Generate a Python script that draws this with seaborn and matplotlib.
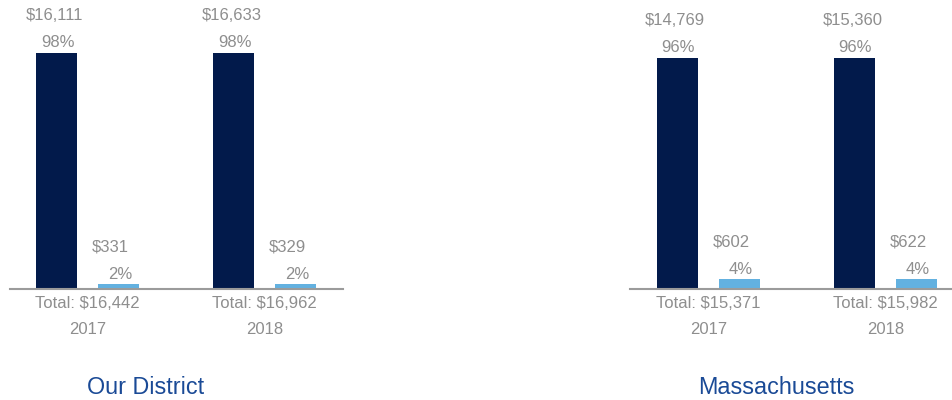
import matplotlib
matplotlib.use("Agg")
import matplotlib.pyplot as plt
import seaborn as sns
import pandas as pd

# ---- data ----
years = ["2017", "2018"]
panels = ["Our District", "Massachusetts"]
main_values = {"Our District": [16111, 16633], "Massachusetts": [14769, 15360]}
main_pct = {"Our District": [98, 98], "Massachusetts": [96, 96]}
other_values = {"Our District": [331, 329], "Massachusetts": [602, 622]}
other_pct = {"Our District": [2, 2], "Massachusetts": [4, 4]}
totals = {"Our District": [16442, 16962], "Massachusetts": [15371, 15982]}

# ---- style ----
DARK = "#021a4b"
LIGHT = "#63b1e0"
GREY_TXT = "#8e8e8e"
AXIS_GREY = "#9b9b9b"
TITLE_BLUE = "#1a4a96"
FONT = "Liberation Sans"

sns.set_theme(style="white")
plt.rcParams["font.family"] = [FONT, "DejaVu Sans"]

W, H = 953, 400
fig = plt.figure(figsize=(W / 100, H / 100), dpi=100)

baseline_px = 289
top_px = 20
axes_px = {"Our District": (10, 343), "Massachusetts": (630, 953)}
bar_top_px = {"Our District": 52.5, "Massachusetts": 57.5}
xlims = {"Our District": (-0.438, 1.4435), "Massachusetts": (-0.442, 1.381)}
title_pos = {"Our District": 146, "Massachusetts": 776}

PT = 72 / 100.0  # points per pixel

for panel in panels:
    x0, x1 = axes_px[panel]
    ax = fig.add_axes([x0 / W, (H - baseline_px) / H, (x1 - x0) / W, (baseline_px - top_px) / H])
    # bar heights are the shares (%), labels show dollars and shares
    df = pd.DataFrame({
        "year": years * 2,
        "kind": ["main"] * 2 + ["other"] * 2,
        "share": main_pct[panel] + other_pct[panel],
    })
    sns.barplot(data=df, x="year", y="share", hue="kind", order=years,
                hue_order=["main", "other"], palette=[DARK, LIGHT],
                width=0.7, gap=0.337, dodge=True, legend=False, ax=ax,
                saturation=1, linewidth=0)
    ymax = main_pct[panel][0] * (baseline_px - top_px) / (baseline_px - bar_top_px[panel])
    ax.set_ylim(0, ymax)
    ax.set_xlim(*xlims[panel])

    vals_by_kind = [(main_values[panel], main_pct[panel], -2, 1),
                    (other_values[panel], other_pct[panel], -8, 1.5)]
    for cont, (vals, pcts, dx_dollar, dx_pct) in zip(ax.containers, vals_by_kind):
        for bar, v, p in zip(cont.patches, vals, pcts):
            cx = bar.get_x() + bar.get_width() / 2
            h = bar.get_height()
            ax.annotate(f"{p}%", (cx, h), xytext=(dx_pct * PT, 10 * PT),
                        textcoords="offset points", ha="center", va="center",
                        fontsize=12, color=GREY_TXT, annotation_clip=False)
            ax.annotate(f"${v:,}", (cx, h), xytext=(dx_dollar * PT, 37 * PT),
                        textcoords="offset points", ha="center", va="center",
                        fontsize=12, color=GREY_TXT, annotation_clip=False)

    ax.set_xticks([0, 1])
    ax.set_xticklabels([f"Total: ${t:,}\n{y}" for t, y in zip(totals[panel], years)],
                       fontsize=12, color=GREY_TXT, linespacing=1.95)
    ax.tick_params(axis="x", length=0, pad=5)
    ax.set_yticks([])
    ax.set_xlabel("")
    ax.set_ylabel("")
    for s in ["left", "right", "top"]:
        ax.spines[s].set_visible(False)
    ax.spines["bottom"].set_color(AXIS_GREY)
    ax.spines["bottom"].set_linewidth(1.5)
    ax.patch.set_alpha(0)

    fig.text(title_pos[panel] / W, 1 - 387 / H, panel, ha="center", va="center",
             fontsize=16.8, color=TITLE_BLUE)

fig.savefig("out.png", dpi=100)
